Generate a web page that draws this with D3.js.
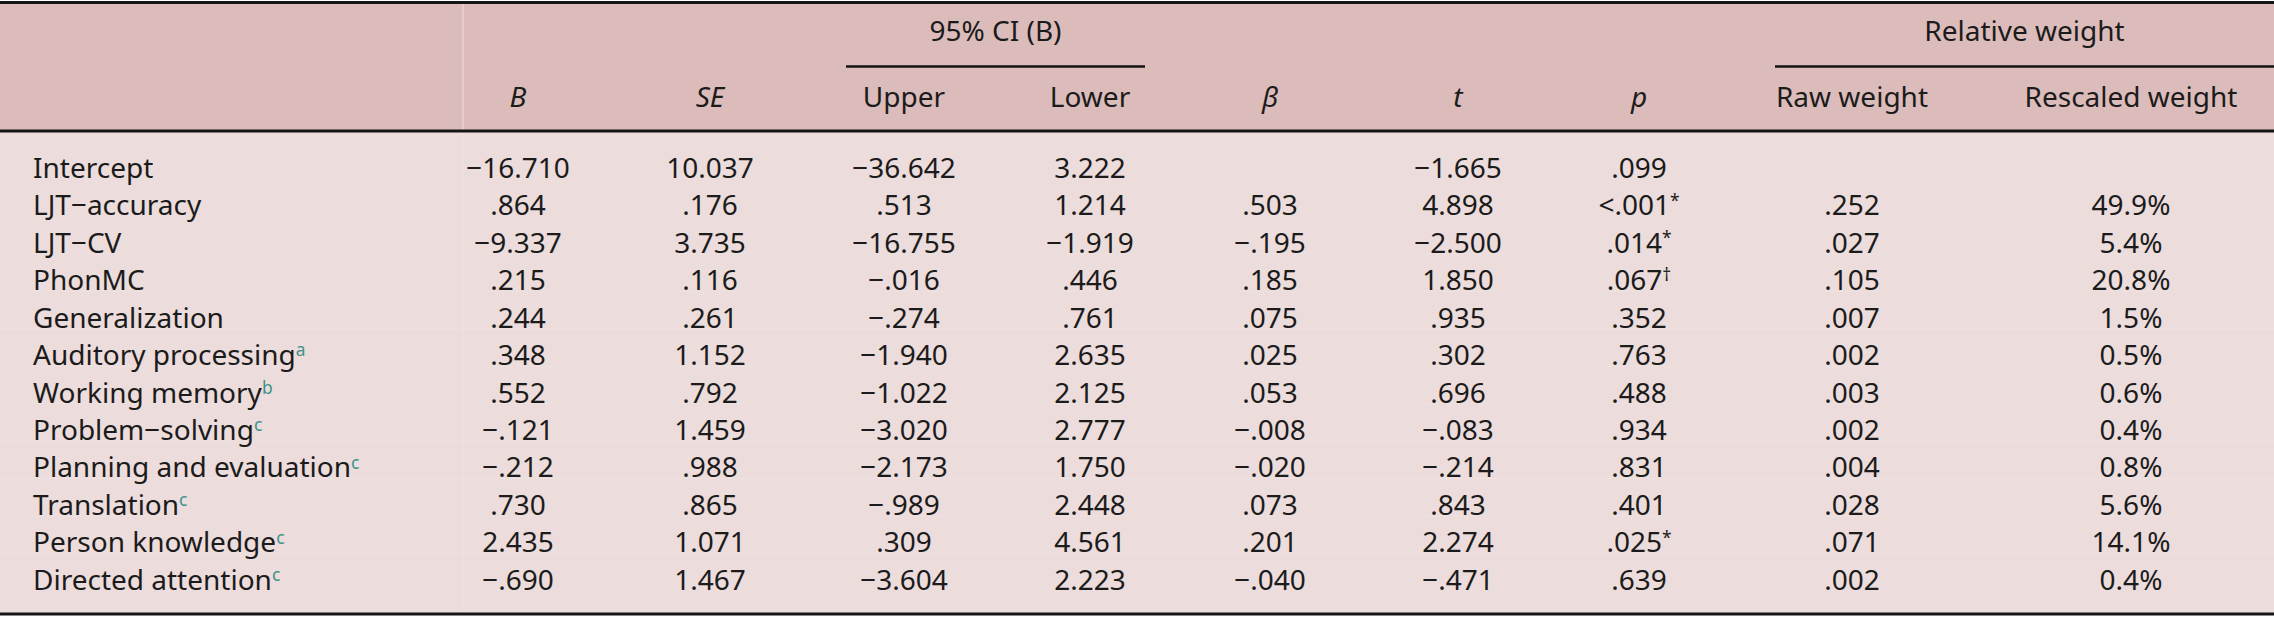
<!DOCTYPE html>
<html>
<head>
<meta charset="utf-8">
<script src="https://cdn.jsdelivr.net/npm/d3@7"></script>
<style>
  html, body { margin: 0; padding: 0; background: #ffffff; }
  svg text { font-family: "Noto Sans", "Open Sans", sans-serif; fill: #1b1b1b; }
</style>
</head>
<body>
<div id="table"></div>
<script>
// row labels and their footnote letters
const rowLabels = [
  "Intercept", "LJT\u2212accuracy", "LJT\u2212CV", "PhonMC", "Generalization",
  "Auditory processing", "Working memory", "Problem\u2212solving",
  "Planning and evaluation", "Translation", "Person knowledge", "Directed attention"
];
const rowNotes = ["", "", "", "", "", "a", "b", "c", "c", "c", "c", "c"];

// column values
const colB = ["\u221216.710", ".864", "\u22129.337", ".215", ".244", ".348", ".552", "\u2212.121", "\u2212.212", ".730", "2.435", "\u2212.690"];
const colSE = ["10.037", ".176", "3.735", ".116", ".261", "1.152", ".792", "1.459", ".988", ".865", "1.071", "1.467"];
const colUpper = ["\u221236.642", ".513", "\u221216.755", "\u2212.016", "\u2212.274", "\u22121.940", "\u22121.022", "\u22123.020", "\u22122.173", "\u2212.989", ".309", "\u22123.604"];
const colLower = ["3.222", "1.214", "\u22121.919", ".446", ".761", "2.635", "2.125", "2.777", "1.750", "2.448", "4.561", "2.223"];
const colBeta = ["", ".503", "\u2212.195", ".185", ".075", ".025", ".053", "\u2212.008", "\u2212.020", ".073", ".201", "\u2212.040"];
const colT = ["\u22121.665", "4.898", "\u22122.500", "1.850", ".935", ".302", ".696", "\u2212.083", "\u2212.214", ".843", "2.274", "\u2212.471"];
const colP = [".099", "<.001", ".014", ".067", ".352", ".763", ".488", ".934", ".831", ".401", ".025", ".639"];
const pMarks = ["", "*", "*", "\u2020", "", "", "", "", "", "", "*", ""];
const colRaw = ["", ".252", ".027", ".105", ".007", ".002", ".003", ".002", ".004", ".028", ".071", ".002"];
const colRescaled = ["", "49.9%", "5.4%", "20.8%", "1.5%", "0.5%", "0.6%", "0.4%", "0.8%", "5.6%", "14.1%", "0.4%"];

// header texts
const colKeys = ["B", "SE", "Upper", "Lower", "beta", "t", "p", "Raw", "Rescaled"];
const colHeads = ["B", "SE", "Upper", "Lower", "\u03b2", "t", "p", "Raw weight", "Rescaled weight"];
const italicHeads = ["B", "SE", "beta", "t", "p"];
const groupHeads = [
  { label: "95% CI (B)", from: "Upper", to: "Lower" },
  { label: "Relative weight", from: "Raw", to: "Rescaled" }
];

const width = 2274, height = 617;
const fontSize = 28;

const x = d3.scaleOrdinal()
  .domain(colKeys)
  .range([518, 710, 904, 1090, 1270, 1458, 1639, 1852, 2131]);

const y = d3.scalePoint()
  .domain(d3.range(rowLabels.length))
  .range([168, 580]);

const svg = d3.select("#table")
  .append("svg")
  .attr("width", width)
  .attr("height", height);

// backgrounds
svg.append("rect").attr("x", 0).attr("y", 3).attr("width", width).attr("height", 128)
  .attr("fill", "#dcbcba");
svg.append("rect").attr("x", 0).attr("y", 131).attr("width", width).attr("height", 483)
  .attr("fill", "#ecdcdb");

// faint cell seams seen in the source
svg.append("line")
  .attr("x1", 463).attr("x2", 463).attr("y1", 4).attr("y2", 612)
  .attr("stroke", "#f0e4e3").attr("stroke-width", 1.5).attr("opacity", 0.6);
svg.append("g").selectAll("line")
  .data(d3.range(2, 11))
  .join("line")
  .attr("x1", 0).attr("x2", width)
  .attr("y1", i => y(i) + 11).attr("y2", i => y(i) + 11)
  .attr("stroke", "#f0e5e4").attr("stroke-width", 1).attr("opacity", 0.7);

// rules
const rule = (y0, x0, x1, w) => svg.append("line")
  .attr("x1", x0).attr("x2", x1).attr("y1", y0).attr("y2", y0)
  .attr("stroke", "#141414").attr("stroke-width", w);
rule(2.5, 0, width, 3);
rule(131, 0, width, 3);
rule(614, 0, width, 3);

// group headers with spanner rules
const spanBounds = {
  Upper: [846, null], Lower: [null, 1145],
  Raw: [1775, null], Rescaled: [null, 2274]
};
groupHeads.forEach(g => {
  const x0 = spanBounds[g.from][0];
  const x1 = spanBounds[g.to][1];
  rule(66.5, x0, x1, 2.5);
  svg.append("text")
    .attr("x", (x0 + x1) / 2)
    .attr("y", 31)
    .attr("dy", "0.35em")
    .attr("text-anchor", "middle")
    .attr("font-size", fontSize)
    .text(g.label);
});

// column headers
svg.append("g").selectAll("text")
  .data(colKeys)
  .join("text")
  .attr("x", d => x(d))
  .attr("y", 97)
  .attr("dy", "0.35em")
  .attr("text-anchor", "middle")
  .attr("font-size", fontSize)
  .attr("font-style", d => italicHeads.includes(d) ? "italic" : "normal")
  .text((d, i) => colHeads[i]);

// row labels with teal footnote marks
const labels = svg.append("g").selectAll("text")
  .data(rowLabels)
  .join("text")
  .attr("x", 33)
  .attr("y", (d, i) => y(i))
  .attr("dy", "0.35em")
  .attr("font-size", fontSize);
labels.append("tspan").text(d => d);
labels.append("tspan")
  .attr("dy", "-0.5em")
  .attr("font-size", fontSize * 0.62)
  .style("fill", "#3d9289")
  .text((d, i) => rowNotes[i]);

// numeric cells
const columns = {
  B: colB, SE: colSE, Upper: colUpper, Lower: colLower, beta: colBeta,
  t: colT, Raw: colRaw, Rescaled: colRescaled
};
Object.entries(columns).forEach(([key, values]) => {
  svg.append("g").selectAll("text")
    .data(values)
    .join("text")
    .attr("x", x(key))
    .attr("y", (d, i) => y(i))
    .attr("dy", "0.35em")
    .attr("text-anchor", "middle")
    .attr("font-size", fontSize)
    .text(d => d);
});

// p column with significance marks
const pCells = svg.append("g").selectAll("text")
  .data(colP)
  .join("text")
  .attr("x", x("p"))
  .attr("y", (d, i) => y(i))
  .attr("dy", "0.35em")
  .attr("text-anchor", "middle")
  .attr("font-size", fontSize);
pCells.append("tspan").text(d => d);
pCells.append("tspan")
  .attr("dy", "-0.5em")
  .attr("font-size", fontSize * 0.62)
  .text((d, i) => pMarks[i]);
</script>
</body>
</html>
